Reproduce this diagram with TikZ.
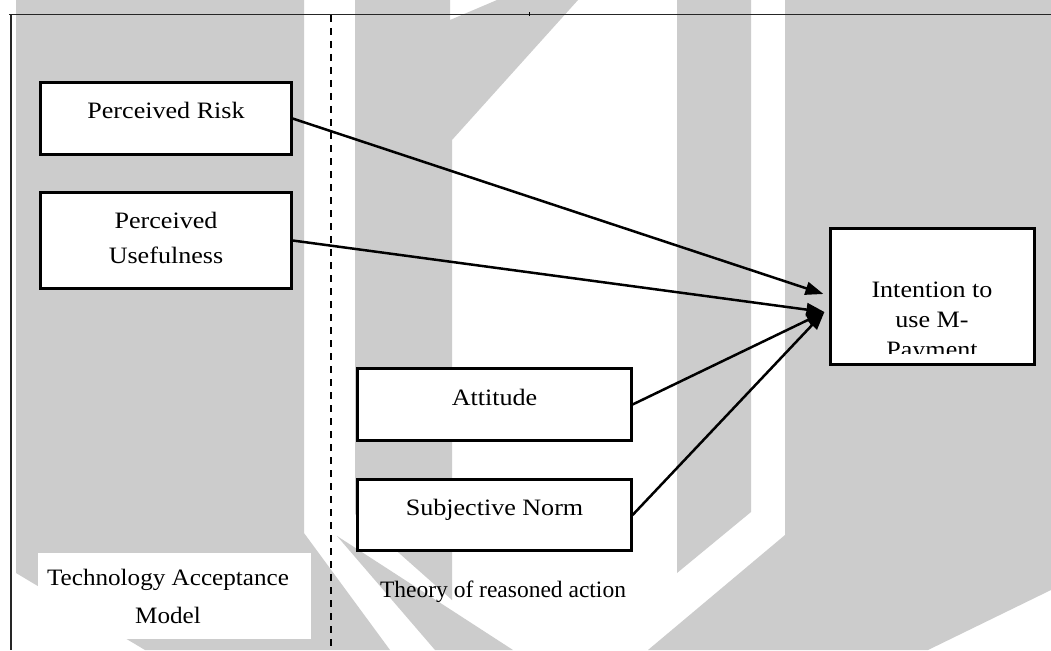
\documentclass[tikz,border=0pt]{standalone}
\usepackage{fontspec}
\setmainfont{Liberation Serif}
\newfontfamily\boxfont{Liberation Serif}[FakeStretch=1.11]
\newfontfamily\capfont{Liberation Serif}[FakeStretch=1.07]
\usetikzlibrary{arrows.meta}
\definecolor{wmgray}{HTML}{CCCCCC}

\begin{document}
\begin{tikzpicture}[x=1pt,y=-1pt,
  wm/.style={fill=wmgray},
  box/.style={draw=black, line width=2.2pt, fill=white, inner sep=0pt},
  lbl/.style={inner sep=0pt, anchor=base, font=\boxfont\fontsize{23.5}{35}\selectfont},
  arr/.style={line width=2.5pt, -{Triangle[length=18pt,width=13pt]}},
  rule/.style={line width=1.1pt, black!85},
]
\useasboundingbox (0,0) rectangle (1051,650);
\fill[white] (0,0) rectangle (1051,650);

% grey backdrop bands
\fill[wm] (16,0) -- (304,0) -- (304,533) -- (390,650) -- (145,650) -- (16,573) -- cycle;
\fill[wm] (355,0) -- (450,0) -- (450,20) -- (497,0) -- (578,0) -- (452,140)
          -- (452,600) -- (355,514) -- cycle;
\fill[wm] (337,536) -- (513,650) -- (435,650) -- cycle;
\fill[wm] (677,0) -- (751,0) -- (751,512) -- (677,573) -- cycle;
\fill[wm] (785,0) -- (1051,0) -- (1051,590) -- (928,650) -- (648,650) -- (785,535) -- cycle;

% frame and divider
\draw[rule] (9,14.5) -- (1051,14.5);
\draw[rule] (11,14.5) -- (11,650);
\draw[line width=0.8pt] (529,12.5) -- (529,16.5);
\draw[line width=1.8pt, dash pattern=on 7pt off 6pt] (331,15) -- (331,650);

% model captions
\fill[white] (38,553) rectangle (311,639);
\node[lbl, font=\capfont\fontsize{23.5}{38}\selectfont] (tamt) at (168,585)
  {\begin{tabular}[t]{@{}c@{}}Technology Acceptance\\Model\end{tabular}};
\node[lbl, font=\fontsize{23.5}{28}\selectfont] (trat) at (503,597) {Theory of reasoned action};

% construct boxes
\node[box, minimum width=251pt, minimum height=72pt] (risk)   at (166,118.5) {};
\node[box, minimum width=251pt, minimum height=96pt] (useful) at (166,240.5) {};
\node[box, minimum width=274pt, minimum height=72pt] (att)    at (494.5,404.5) {};
\node[box, minimum width=274pt, minimum height=71pt] (norm)   at (494.5,515) {};
\node[box, minimum width=204pt, minimum height=136pt] (intent) at (932.5,296.5) {};

\node[lbl] (riskt) at (166,118) {Perceived Risk};
\node[lbl] (usefult) at (166,228)
  {\begin{tabular}[t]{@{}c@{}}Perceived\\Usefulness\end{tabular}};
\node[lbl] (attt) at (494.5,405) {Attitude};
\node[lbl] (normt) at (494.5,515) {Subjective Norm};
\begin{scope}
  \clip (831,229) rectangle (1034,353.5);
  \node[lbl, font=\boxfont\fontsize{23.5}{30}\selectfont] (intentt) at (932,297)
    {\begin{tabular}[t]{@{}c@{}}Intention to\\use M-\\Payment\end{tabular}};
\end{scope}

% paths into the intention construct
\coordinate (inA) at ([xshift=-6pt,yshift=2.5pt]intent.west);
\coordinate (inB) at ([xshift=-5pt,yshift=-15.5pt]intent.west);
\draw[arr] (risk.east) -- (inA);
\draw[arr] (useful.east) -- (inB);
\draw[arr] (att.east) -- (inB);
\draw[arr] (norm.east) -- (inB);
\end{tikzpicture}
\end{document}
